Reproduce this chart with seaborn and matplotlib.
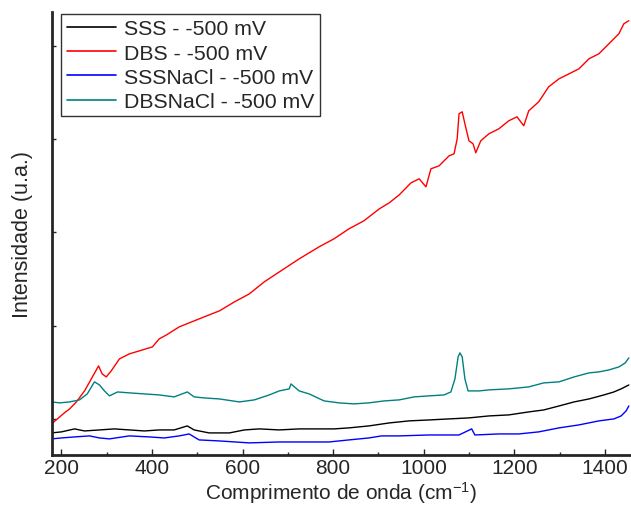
import matplotlib
matplotlib.use("Agg")
import matplotlib.pyplot as plt
from matplotlib.ticker import MultipleLocator
import seaborn as sns
import pandas as pd

sns.set_style("ticks")
plt.rcParams['font.family'] = ['Liberation Sans', 'DejaVu Sans']
plt.rcParams['mathtext.fontset'] = 'custom'
plt.rcParams['mathtext.rm'] = 'Liberation Sans'
plt.rcParams['mathtext.it'] = 'Liberation Sans:italic'

# Raman spectra (wavenumber cm-1, intensity a.u.)
sss_x = [178, 200, 229, 251, 284, 317, 350, 383, 416, 449, 478, 493, 526, 571,
         604, 637, 681, 725, 769, 802, 835, 879, 924, 968, 1012, 1056, 1100,
         1144, 1188, 1232, 1265, 1299, 1332, 1365, 1398, 1420, 1436, 1453]
sss_y = [850, 861, 893, 871, 882, 893, 882, 871, 882, 882, 925, 882, 850, 850,
         882, 893, 882, 893, 893, 893, 904, 925, 957, 979, 989, 1000, 1011,
         1032, 1043, 1075, 1096, 1139, 1182, 1214, 1257, 1289, 1322, 1364]

dbs_x = [178, 196, 209, 218, 233, 251, 266, 282, 290, 299, 310, 328, 350, 372,
         401, 416, 432, 460, 482, 515, 549, 582, 615, 648, 688, 725, 769, 802,
         835, 868, 902, 924, 946, 972, 990, 1005, 1016, 1034, 1056, 1067, 1074,
         1078, 1085, 1091, 1100, 1109, 1115, 1126, 1144, 1166, 1188, 1206, 1221,
         1232, 1254, 1276, 1299, 1321, 1343, 1365, 1387, 1409, 1431, 1442, 1453]
dbs_y = [946, 1021, 1075, 1107, 1182, 1300, 1429, 1568, 1482, 1450, 1515, 1643,
         1697, 1729, 1772, 1858, 1900, 1986, 2029, 2093, 2158, 2254, 2340, 2469,
         2597, 2715, 2844, 2930, 3037, 3123, 3251, 3316, 3401, 3530, 3573, 3487,
         3680, 3712, 3819, 3841, 4002, 4270, 4291, 4162, 3980, 3948, 3852, 3980,
         4055, 4109, 4195, 4237, 4141, 4302, 4398, 4559, 4645, 4698, 4752, 4859,
         4913, 5020, 5127, 5234, 5267]

sssnacl_x = [178, 200, 229, 262, 284, 306, 350, 394, 427, 460, 482, 504, 549,
             615, 681, 725, 791, 835, 879, 907, 946, 1012, 1078, 1106, 1113,
             1166, 1210, 1254, 1299, 1343, 1387, 1420, 1436, 1447, 1453]
sssnacl_y = [786, 796, 807, 818, 796, 786, 818, 807, 796, 818, 839, 775, 764,
             743, 753, 753, 753, 775, 796, 818, 818, 828, 828, 893, 828,
             839, 839, 861, 904, 936, 979, 1000, 1032, 1086, 1139]

dbsnacl_x = [178, 196, 218, 240, 257, 273, 284, 295, 306, 324, 350, 383, 416,
             449, 478, 493, 515, 549, 593, 626, 659, 681, 703, 707, 725, 747,
             780, 813, 846, 879, 913, 946, 979, 1012, 1045, 1060, 1069, 1076,
             1080, 1085, 1091, 1098, 1122, 1144, 1188, 1232, 1265, 1299, 1332,
             1365, 1387, 1409, 1431, 1445, 1453]
dbsnacl_y = [1182, 1172, 1182, 1204, 1268, 1397, 1364, 1300, 1247, 1289, 1279,
             1268, 1257, 1236, 1289, 1236, 1225, 1214, 1182, 1204, 1257, 1300,
             1322, 1375, 1300, 1268, 1193, 1172, 1161, 1172, 1193, 1204, 1236,
             1247, 1257, 1289, 1429, 1665, 1708, 1665, 1429, 1300, 1300, 1311,
             1322, 1343, 1386, 1397, 1450, 1493, 1504, 1525, 1557, 1600, 1654]

labels = ['SSS - -500 mV', 'DBS - -500 mV', 'SSSNaCl - -500 mV', 'DBSNaCl - -500 mV']
colors = ['black', '#ff0000', '#0000ff', '#008080']

frames = []
for lab, xs, ys in zip(labels,
                       [sss_x, dbs_x, sssnacl_x, dbsnacl_x],
                       [sss_y, dbs_y, sssnacl_y, dbsnacl_y]):
    frames.append(pd.DataFrame({'onda': xs, 'int': ys, 'serie': lab}))
df = pd.concat(frames, ignore_index=True)

fig = plt.figure(figsize=(6.31, 5.10), dpi=100)
ax = fig.add_axes([0.083, 0.106, 0.915, 0.869])

sns.lineplot(data=df, x='onda', y='int', hue='serie', hue_order=labels,
             palette=colors, sort=False, estimator=None, linewidth=1.0, ax=ax)

ax.set_xlim(180, 1455)
ax.set_ylim(614, 5363)
ax.xaxis.set_major_locator(MultipleLocator(200))
ax.xaxis.set_minor_locator(MultipleLocator(100))
ax.yaxis.set_major_locator(MultipleLocator(1000))
ax.set_yticklabels([])
ax.tick_params(axis='both', which='both', direction='in', width=1)
ax.tick_params(axis='both', which='major', length=4, labelsize=15, pad=2)
ax.tick_params(axis='x', which='minor', length=2)
ax.tick_params(axis='y', which='major', length=3, labelleft=False)
for s in ['top', 'right']:
    ax.spines[s].set_visible(False)
for s in ['left', 'bottom']:
    ax.spines[s].set_linewidth(2)

ax.set_xlabel('Comprimento de onda (cm$^{-1}$)', fontsize=15, labelpad=2)
ax.set_ylabel('Intensidade (u.a.)', fontsize=15.5, labelpad=14)

leg = ax.legend(loc='upper left', bbox_to_anchor=(0.012, 1.0), fontsize=15.3,
                frameon=True, fancybox=False, edgecolor='black',
                handlelength=2.3, labelspacing=0.25, borderpad=0.25,
                handletextpad=0.4, borderaxespad=0.1)
leg.get_frame().set_linewidth(1.0)
for h in leg.get_lines():
    h.set_linewidth(1.2)

fig.savefig('out.png', dpi=100)
